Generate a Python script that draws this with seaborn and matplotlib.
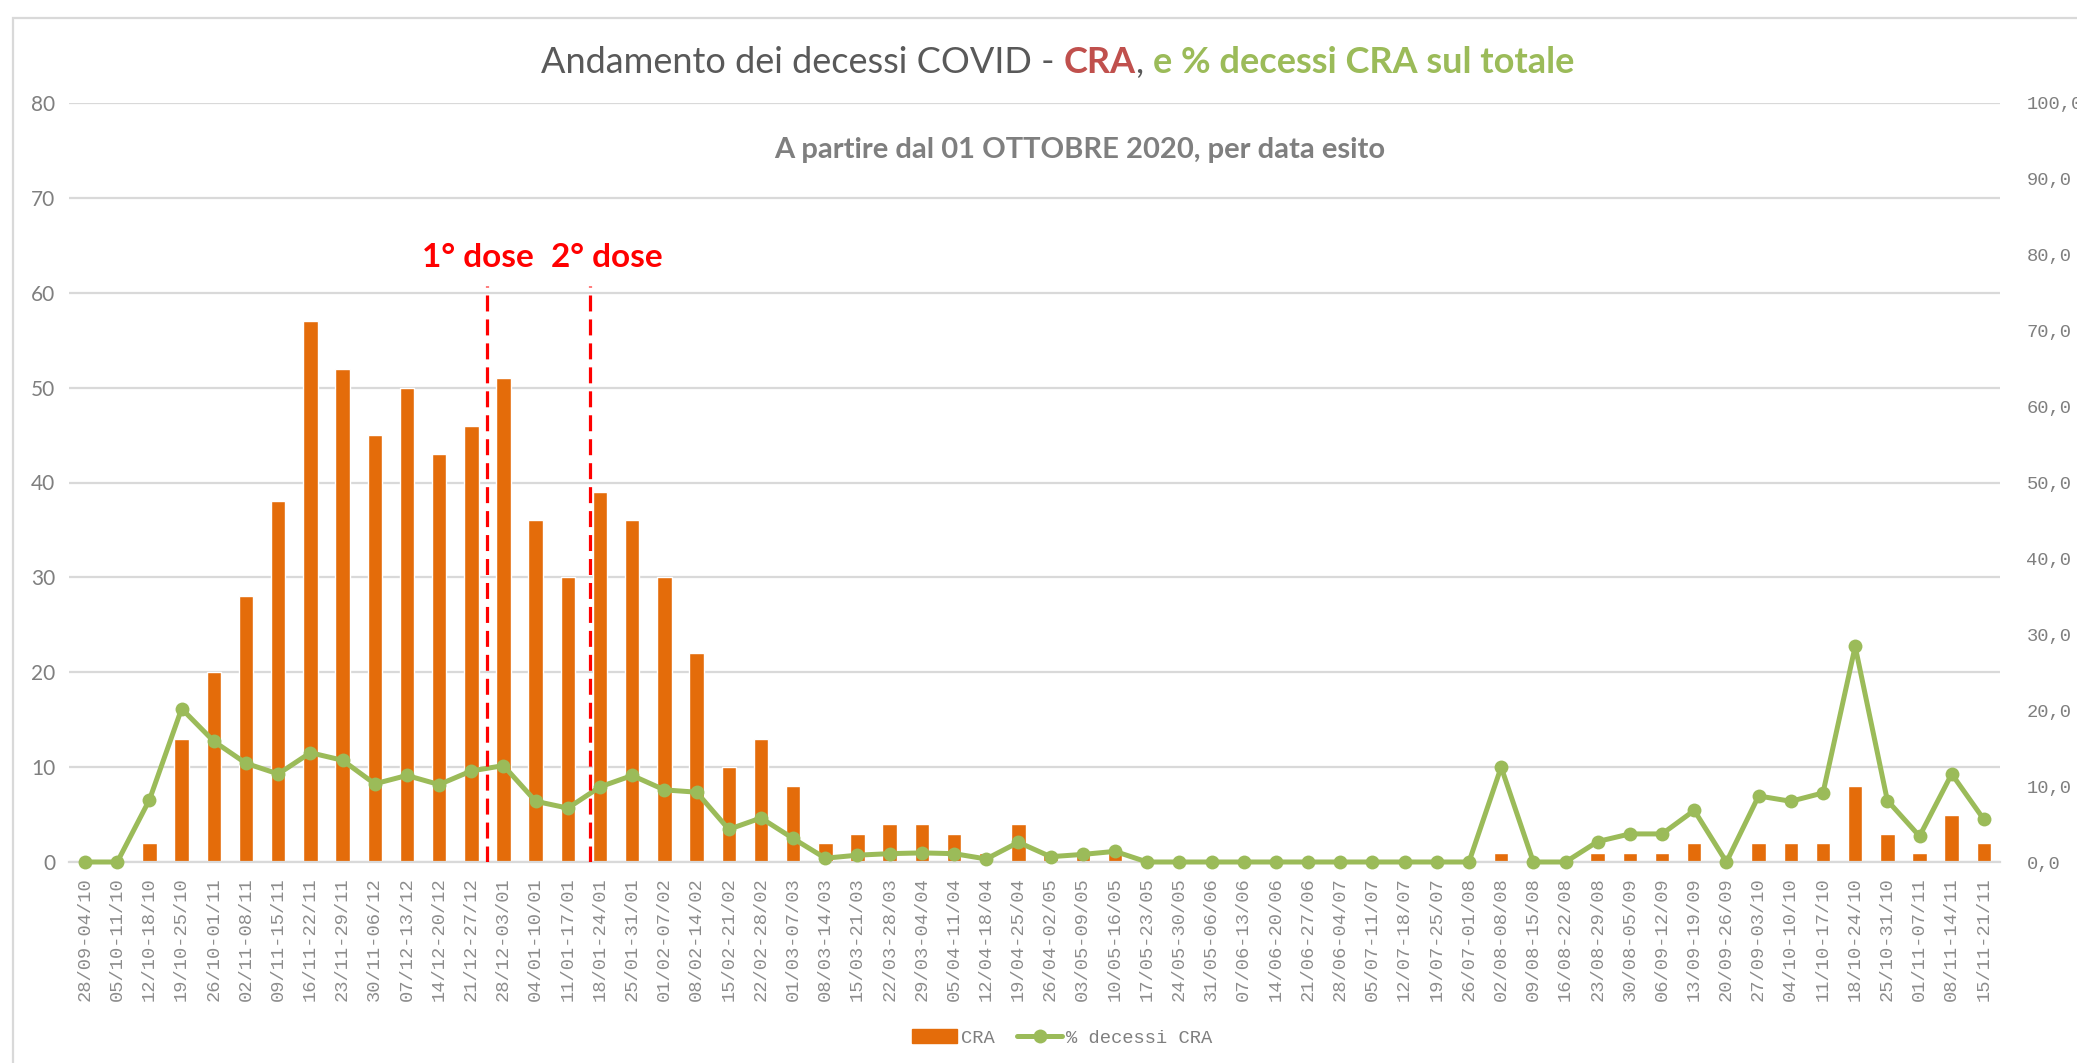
import numpy as np
import pandas as pd
import matplotlib

matplotlib.use("Agg")
import matplotlib.pyplot as plt
import seaborn as sns
from matplotlib.patches import Patch, Rectangle
from matplotlib.lines import Line2D

# weekly buckets, from 28/09/2020
weeks = [
    "28/09-04/10", "05/10-11/10", "12/10-18/10", "19/10-25/10", "26/10-01/11",
    "02/11-08/11", "09/11-15/11", "16/11-22/11", "23/11-29/11", "30/11-06/12",
    "07/12-13/12", "14/12-20/12", "21/12-27/12", "28/12-03/01", "04/01-10/01",
    "11/01-17/01", "18/01-24/01", "25/01-31/01", "01/02-07/02", "08/02-14/02",
    "15/02-21/02", "22/02-28/02", "01/03-07/03", "08/03-14/03", "15/03-21/03",
    "22/03-28/03", "29/03-04/04", "05/04-11/04", "12/04-18/04", "19/04-25/04",
    "26/04-02/05", "03/05-09/05", "10/05-16/05", "17/05-23/05", "24/05-30/05",
    "31/05-06/06", "07/06-13/06", "14/06-20/06", "21/06-27/06", "28/06-04/07",
    "05/07-11/07", "12/07-18/07", "19/07-25/07", "26/07-01/08", "02/08-08/08",
    "09/08-15/08", "16/08-22/08", "23/08-29/08", "30/08-05/09", "06/09-12/09",
    "13/09-19/09", "20/09-26/09", "27/09-03/10", "04/10-10/10", "11/10-17/10",
    "18/10-24/10", "25/10-31/10", "01/11-07/11", "08/11-14/11", "15/11-21/11",
]

# CRA deaths per week (left axis)
cra = [0, 0, 2, 13, 20, 28, 38, 57, 52, 45,
       50, 43, 46, 51, 36, 30, 39, 36, 30, 22,
       10, 13, 8, 2, 3, 4, 4, 3, 1, 4,
       1, 1, 1, 0, 0, 0, 0, 0, 0, 0,
       0, 0, 0, 0, 1, 0, 0, 1, 1, 1,
       2, 0, 2, 2, 2, 8, 3, 1, 5, 2]

# % of CRA deaths over total (right axis)
pct_cra = [0.0, 0.0, 8.2, 20.2, 15.9, 13.0, 11.6, 14.4, 13.4, 10.3,
           11.4, 10.2, 12.0, 12.7, 8.0, 7.1, 9.9, 11.4, 9.5, 9.2,
           4.3, 5.8, 3.1, 0.5, 0.9, 1.1, 1.2, 1.1, 0.4, 2.6,
           0.7, 1.0, 1.4, 0.0, 0.0, 0.0, 0.0, 0.0, 0.0, 0.0,
           0.0, 0.0, 0.0, 0.0, 12.5, 0.0, 0.0, 2.7, 3.7, 3.7,
           6.8, 0.0, 8.7, 8.0, 9.1, 28.4, 8.1, 3.4, 11.6, 5.6]

dose_labels = ["1° dose", "2° dose"]
dose_lines = [12.5, 15.68]
dose_text_x = [12.2, 16.2]
DOSE_TOP = 60.7
DOSE_TEXT_Y = 63.7

ORANGE = "#E46C0A"
GREEN = "#9BBB59"
RED_T = "#C0504D"
GRID = "#D9D9D9"
GREY_T = "#595959"
GREY_L = "#7F7F7F"
MONO = "Liberation Mono"

sns.set_style("white")
plt.rcParams["font.family"] = ["Lato", "DejaVu Sans"]

W, H = 2077, 1063
fig = plt.figure(figsize=(W / 100, H / 100), dpi=100)
ax = fig.add_axes([69 / W, 1 - 862 / H, (2000 - 69) / W, (862 - 103) / H])

df = pd.DataFrame({"week": weeks, "cra": cra, "pct": pct_cra})
sns.barplot(data=df, x="week", y="cra", color=ORANGE, saturation=1,
            width=0.45, ax=ax)
ax.set_ylim(0, 80)
ax.set_yticks(range(0, 81, 10))
ax.yaxis.grid(True, color=GRID, lw=1.6)
ax.set_axisbelow(True)
for s in ["top", "right", "left"]:
    ax.spines[s].set_visible(False)
ax.spines["bottom"].set_color(GRID)
ax.spines["bottom"].set_linewidth(1.6)
ax.set_xlabel(""); ax.set_ylabel("")
ax.tick_params(axis="y", length=0, pad=10, labelsize=15, labelcolor=GREY_L)
ax.tick_params(axis="x", length=0, pad=11)
plt.setp(ax.get_xticklabels(), rotation=90, fontfamily=MONO,
         fontsize=13.5, color="#8C8C8C")

ax2 = ax.twinx()
sns.lineplot(x=np.arange(len(weeks)), y=pct_cra, ax=ax2, color=GREEN,
             lw=3.6, marker="o", markersize=10, markeredgewidth=0, sort=False)
for ln in ax2.lines:
    ln.set_clip_on(False)
ax2.set_ylim(0, 100)
ax2.set_yticks(range(0, 101, 10))
ax2.set_yticklabels([f"{v:.1f}".replace(".", ",") for v in range(0, 101, 10)])
for s in ax2.spines.values():
    s.set_visible(False)
ax2.set_ylabel("")
ax2.tick_params(axis="y", length=0, pad=19, labelcolor=GREY_L)
plt.setp(ax2.get_yticklabels(), fontfamily=MONO, fontsize=13.5)
ax.set_xlim(-0.5, len(weeks) - 0.5)

# vaccine doses
for xl in dose_lines:
    ax2.axvline(xl, ymin=0, ymax=DOSE_TOP / 80, color="#FF0000", lw=2.3,
                linestyle=(0, (5, 2.5)))
for xt, lab in zip(dose_text_x, dose_labels):
    ax.text(xt, DOSE_TEXT_Y, lab, ha="center", va="center", color="#FF0000",
            fontsize=24, fontweight="bold")

# multi-colour title
pieces = [("Andamento dei decessi COVID - ", GREY_T, "normal"),
          ("CRA", RED_T, "bold"),
          (", ", GREY_T, "normal"),
          ("e % decessi CRA sul totale", GREEN, "bold")]
first = fig.text(0.26, 0.926, pieces[0][0], color=pieces[0][1],
                 fontweight=pieces[0][2], fontsize=26, ha="left", va="bottom")
prev = first
parts = [first]
for txt, col, wt in pieces[1:]:
    prev = ax.annotate(txt, xy=(1, 0), xycoords=prev, color=col,
                       fontweight=wt, fontsize=26, ha="left", va="bottom")
    parts.append(prev)
fig.canvas.draw()
r = fig.canvas.get_renderer()
x0 = parts[0].get_window_extent(r).x0
x1 = parts[-1].get_window_extent(r).x1
shift = 1058 - (x0 + x1) / 2
first.set_x(first.get_position()[0] + shift / W)

fig.text(1080 / W, 1 - 150 / H, "A partire dal 01 OTTOBRE 2020, per data esito",
         ha="center", va="center", fontsize=21, fontweight="bold",
         color=GREY_L)

# outer chart frame
fig.add_artist(Rectangle((13 / W, -0.1), 1.2, 1.1 - 18 / H, fill=False,
                         edgecolor=GRID, lw=1.6, transform=fig.transFigure))

handles = [Patch(facecolor=ORANGE, edgecolor=ORANGE),
           Line2D([0], [0], color=GREEN, lw=3.6, marker="o", markersize=10,
                  markeredgewidth=0)]
fig.legend(handles, ["CRA", "% decessi CRA"], loc="center",
           bbox_to_anchor=(1062 / W, 1 - 1038 / H), ncol=2, frameon=False,
           prop={"family": MONO, "size": 13.5}, labelcolor=GREY_L,
           handlelength=2.4, handletextpad=0.2, columnspacing=1.2)

fig.savefig("out.png", dpi=100)
plt.close(fig)
